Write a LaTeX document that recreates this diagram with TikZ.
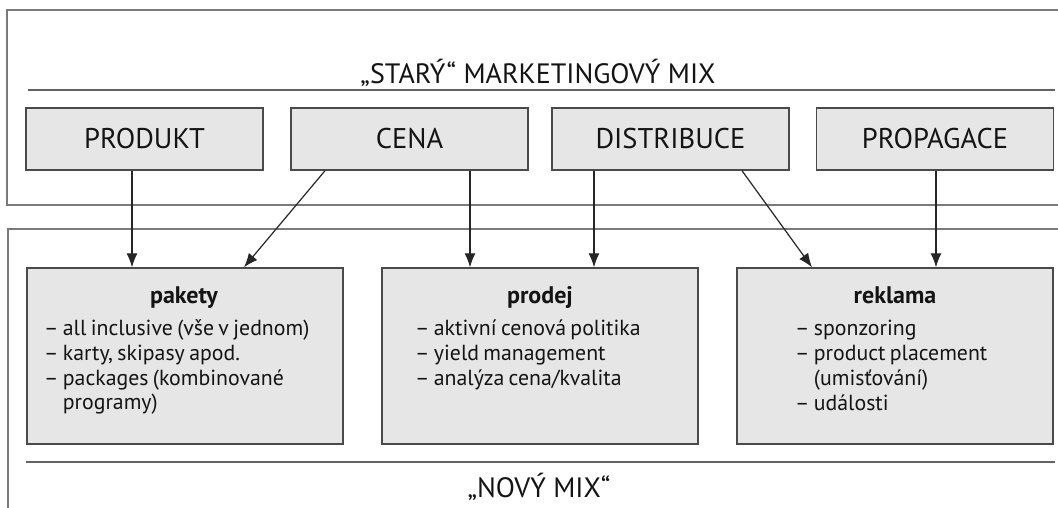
\documentclass[tikz,border=0pt]{standalone}
\usepackage{fontspec}
\setmainfont{PT Sans}
\usetikzlibrary{arrows.meta}
\definecolor{boxfill}{HTML}{E6E6E6}
\definecolor{boxline}{HTML}{4A4A4A}
\definecolor{frameline}{HTML}{7A7A7A}
\definecolor{txt}{HTML}{141414}
\newcommand\itemfont{\fontsize{21.8}{25}\selectfont\spaceskip 0.2em plus 0.1em\relax}
\tikzset{
  frame/.style={draw=frameline, line width=1.8pt},
  sepline/.style={draw=frameline!80!black, line width=1.6pt},
  topbox/.style={draw=boxline, fill=boxfill, line width=1.4pt, minimum width=237pt, minimum height=62pt, inner sep=0pt, text=txt, font=\fontsize{28.5}{30}\selectfont},
  lowbox/.style={draw=boxline, fill=boxfill, line width=1.4pt, minimum width=316pt, minimum height=176pt, inner sep=0pt},
  heading/.style={inner sep=0pt, anchor=base, text=txt, font=\fontsize{24}{26}\selectfont\bfseries},
  item/.style={inner sep=0pt, anchor=base west, text=txt, font=\itemfont},
  bigtitle/.style={inner sep=0pt, anchor=base, text=txt, font=\fontsize{28}{30}\selectfont},
  arr/.style={draw=black!85, line width=1.2pt, -{Latex[length=14pt,width=11pt]}}
}
\begin{document}
\begin{tikzpicture}[x=1pt,y=-1pt]
\useasboundingbox (0,0) rectangle (1058,507);
\clip (0,0) rectangle (1058,507);
\fill[white] (0,0) rectangle (1058,507);
% outer frames
\draw[frame] (1070,10) -- (7,10) -- (7,205) -- (1070,205);
\draw[frame] (1070,229) -- (8,229) -- (8,520);
% separator lines
\draw[sepline] (28,90) -- (1055,90);
\draw[sepline] (26,462) -- (1055,462);
% titles
\node[bigtitle] (old) at (538,83) {„STARÝ“ MARKETINGOVÝ MIX};
\node[bigtitle] (new) at (539,497) {„NOVÝ MIX“};
% top boxes
\node[topbox] (produkt) at (144.5,139) {PRODUKT};
\node[topbox] (cena) at (409.5,139) {CENA};
\node[topbox] (distribuce) at (670.5,139) {DISTRIBUCE};
\node[topbox] (propagace) at (935,139) {PROPAGACE};
% lower boxes
\node[lowbox] (pakety) at (185,356) {};
\node[lowbox] (prodej) at (540,356) {};
\node[lowbox] (reklama) at (895,356) {};
% headings
\node[heading] (hpakety) at (184,303) {pakety};
\node[heading] (hprodej) at (540,303) {prodej};
\node[heading] (hreklama) at (895,303) {reklama};
% items
\node[item] (pk1) at (44,335) {– all inclusive (vše v jednom)};
\node[item] (pk2) at (44,360) {– karty, skipasy apod.};
\node[item] (pk3) at (44,385) {– packages (kombinované};
\node[item] (pk4) at (44,409) {\hphantom{– }programy)};
\node[item] (pd1) at (415,335) {– aktivní cenová politika};
\node[item] (pd2) at (415,360) {– yield management};
\node[item] (pd3) at (415,385) {– analýza cena/kvalita};
\node[item] (rk1) at (795,335) {– sponzoring};
\node[item] (rk2) at (795,360) {– product placement};
\node[item] (rk3) at (795,385) {\hphantom{– }(umisťování)};
\node[item] (rk4) at (795,410) {– události};
% arrows
\draw[arr] (132,0 |- produkt.south) -- (132,0 |- pakety.north);
\draw[arr] (325,0 |- cena.south) -- (244,0 |- pakety.north);
\draw[arr] (470,0 |- cena.south) -- (470,0 |- prodej.north);
\draw[arr] (594,0 |- distribuce.south) -- (594,0 |- prodej.north);
\draw[arr] (742,0 |- distribuce.south) -- (812,0 |- reklama.north);
\draw[arr] (936,0 |- propagace.south) -- (936,0 |- reklama.north);
\end{tikzpicture}
\end{document}
